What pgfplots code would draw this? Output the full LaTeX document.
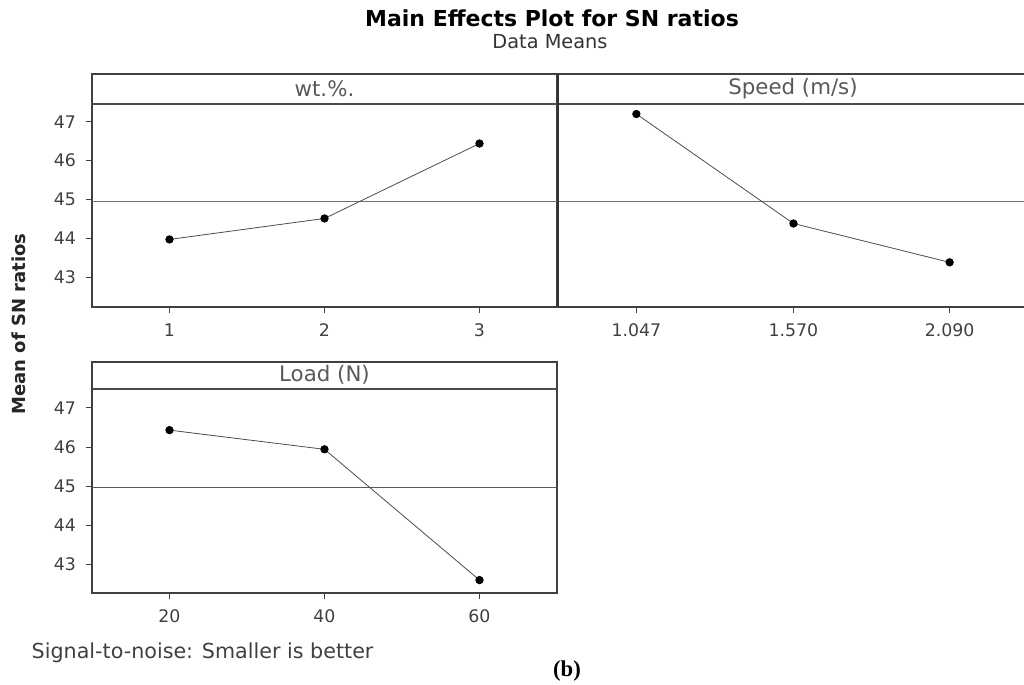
\documentclass[border=0pt]{standalone}
\usepackage{pgfplots}
\pgfplotsset{compat=1.18}
\usepackage{fontspec}
\setmainfont{DejaVu Sans}
\newfontfamily\timesb{Liberation Serif}

\begin{document}
\begin{tikzpicture}[x=0.75pt,y=-0.75pt]
\useasboundingbox (0,0) rectangle (1024,685);
\tikzset{mehead/.style={font=\fontsize{16}{18}\selectfont, text=black!65}}
\pgfplotsset{
  mepanel/.style={
    width=348.75pt, height=174.75pt, scale only axis,
    axis line style={black!75, line width=0.9pt},
    tick style={black!75, line width=0.6pt},
    tick align=outside, major tick length=4.5pt,
    xtick pos=lower, ytick pos=lower,
    ytick={43,44,45,46,47},
    ticklabel style={font=\fontsize{13}{15}\selectfont, text=black!75},
    xticklabel style={yshift=-4.5pt},
    yticklabel style={xshift=-4pt},
    /pgf/number format/assume math mode=true,
    clip=false,
  },
  meline/.style={black!70, line width=0.6pt, mark=*, mark size=2.8pt,
    mark options={fill=black, draw=black}},
  meref/.style={black!55, line width=0.7pt, mark=none},
}

% wt.%
\begin{axis}[mepanel, at={(69pt,-230.25pt)}, anchor=south west,
  xmin=0.5, xmax=3.5, ymin=42.23, ymax=48.23, xtick={1,2,3}]
  \addplot[meref] coordinates {(0.5,44.95) (3.5,44.95)};
  \addplot[meline] coordinates {(1,43.97) (2,44.51) (3,46.44)};
  \draw[black!70, line width=1.6pt] (rel axis cs:0,0.871) -- (rel axis cs:1,0.871);
  \node[mehead] at (rel axis cs:0.5,0.936) {wt.\%.};
\end{axis}

% Speed
\begin{axis}[mepanel, at={(418.5pt,-230.25pt)}, anchor=south west, width=352.5pt,
  xmin=0.786, xmax=2.351, ymin=42.23, ymax=48.23,
  xtick={1.047,1.570,2.090}, xticklabels={1.047,1.570,2.090}, ytick=\empty]
  \addplot[meref] coordinates {(0.786,44.95) (2.351,44.95)};
  \addplot[meline] coordinates {(1.047,47.20) (1.570,44.38) (2.090,43.38)};
  \draw[black!70, line width=1.6pt] (rel axis cs:0,0.871) -- (rel axis cs:1,0.871);
  \draw[black!80, line width=1.8pt] (rel axis cs:0,0) -- (rel axis cs:0,1);
  \node[mehead] at (rel axis cs:0.5,0.936) {Speed (m/s)};
\end{axis}

% Load
\begin{axis}[mepanel, at={(69pt,-444.75pt)}, anchor=south west, height=173.25pt,
  xmin=10, xmax=70, ymin=42.27, ymax=48.17, xtick={20,40,60}]
  \addplot[black!65, line width=1.1pt, mark=none] coordinates {(10,44.97) (70,44.97)};
  \addplot[meline] coordinates {(20,46.43) (40,45.94) (60,42.60)};
  \draw[black!70, line width=1.6pt] (rel axis cs:0,0.885) -- (rel axis cs:1,0.885);
  \node[mehead] at (rel axis cs:0.5,0.943) {Load (N)};
\end{axis}

\node[font=\bfseries\fontsize{16.5}{19}\selectfont] at (552,18) {Main Effects Plot for SN ratios};
\node[font=\fontsize{14.5}{17}\selectfont, text=black!80] at (550,42) {Data Means};
\node[rotate=90, font=\bfseries\fontsize{13.5}{16}\selectfont, text=black!85] at (19,324) {Mean of SN ratios};
\node[anchor=west, font=\fontsize{15.5}{18}\selectfont, text=black!75] at (27,653) {Signal-to-noise: Smaller is better};
\node[font=\timesb\bfseries\fontsize{17}{20}\selectfont] at (567,671) {(b)};
\end{tikzpicture}
\end{document}
